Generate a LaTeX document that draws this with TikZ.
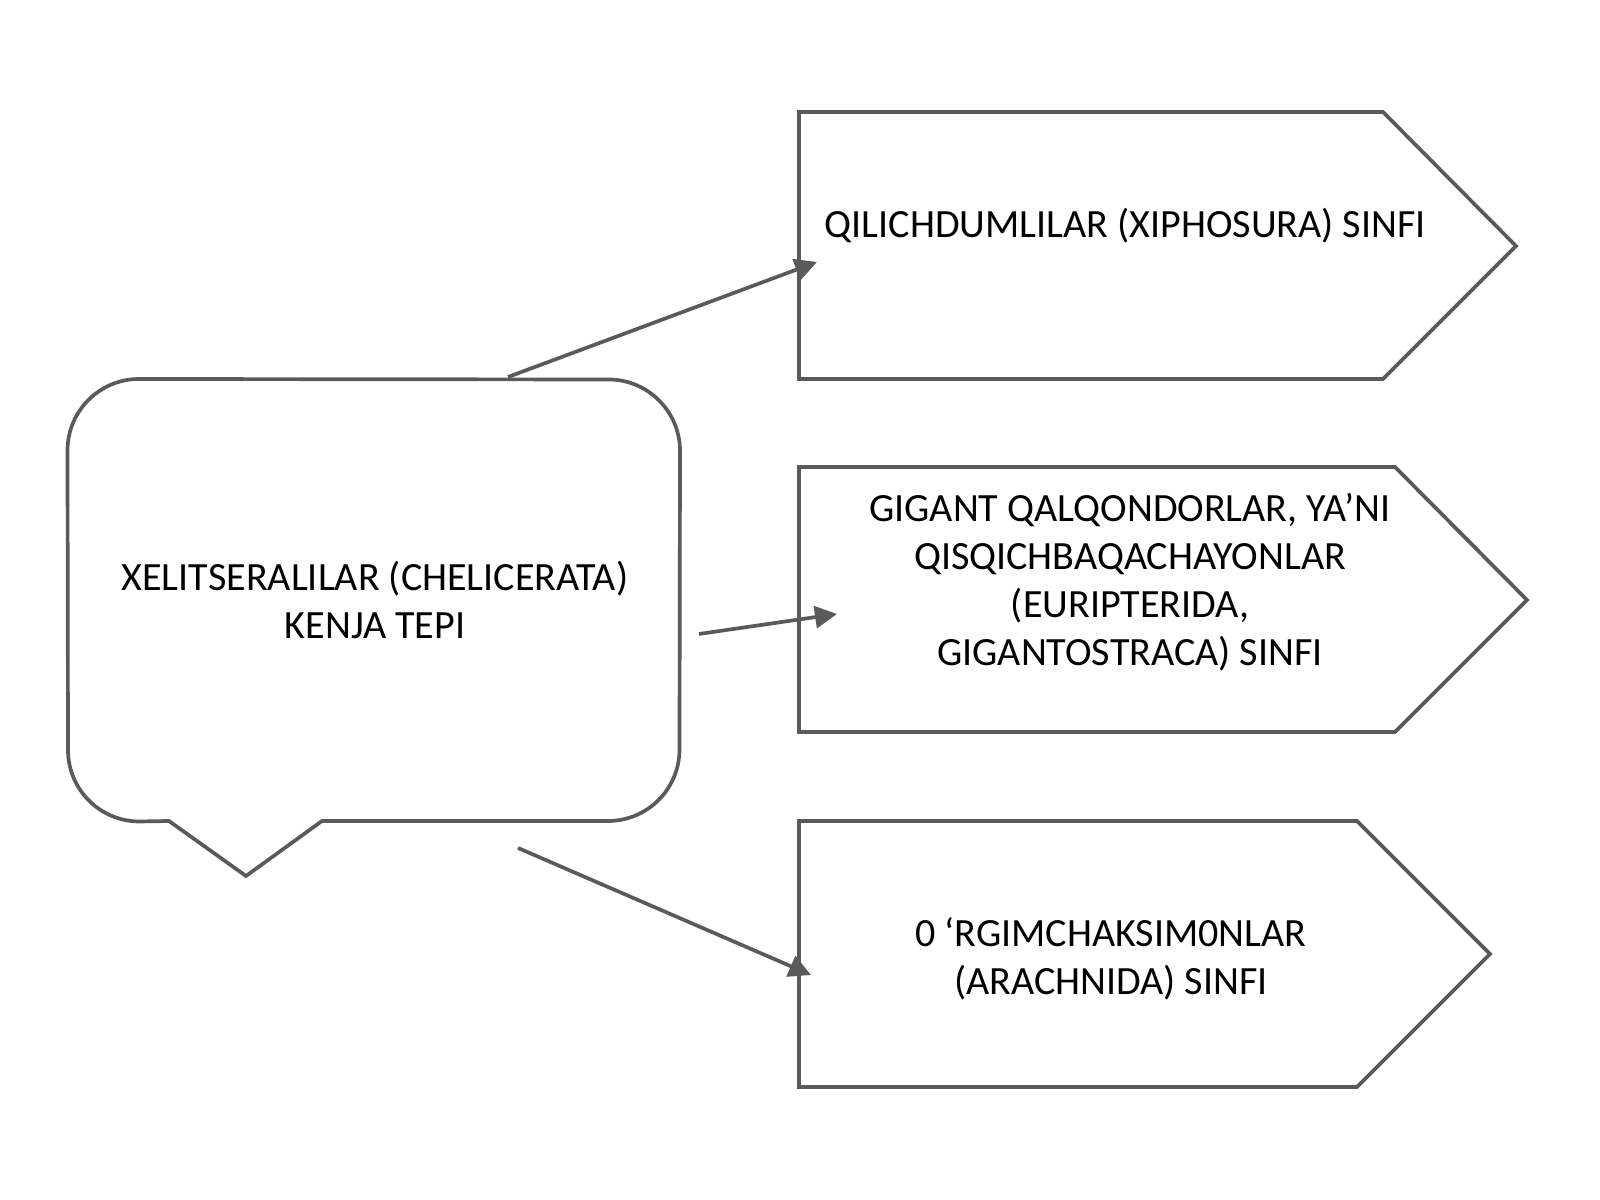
\documentclass[tikz,border=0pt]{standalone}
\usepackage{fontspec}
\setmainfont{Carlito}
\usetikzlibrary{arrows.meta}
\definecolor{linegray}{HTML}{5A5A5A}

\tikzset{
  outline/.style={draw=linegray, line width=1.05pt, line join=miter},
  link/.style={draw=linegray, line width=1.05pt, -{Triangle[length=2.2mm,width=2.2mm]}},
  boxtext/.style={inner sep=0pt, align=center, font=\fontsize{11.4}{13.7}\selectfont}
}

\begin{document}
\begin{tikzpicture}[x=0.1mm, y=0.1mm]
            \useasboundingbox (0,0) rectangle (1600,1200);

            % speech bubble
            \draw[outline] (169,379) -- (246,324) -- (322,379) -- (608,379)
                arc[start angle=270, end angle=360, radius=7.15mm] -- (680,749)
                arc[start angle=0, end angle=90, radius=7.15mm] -- (139,821)
                arc[start angle=90, end angle=180, radius=7.15mm] -- (68,450)
                arc[start angle=180, end angle=270, radius=7.15mm] -- cycle;
            \node[boxtext] (xelit) at (375,600) {XELITSERALILAR (CHELICERATA)\\KENJA TEPI};

            % arrow boxes
            \draw[outline] (799,1088) -- (1383,1088) -- (1516,954) -- (1383,821) -- (799,821) -- cycle;
            \node[boxtext, anchor=west] (xiph) at (824,974) {QILICHDUMLILAR (XIPHOSURA) SINFI};

            \draw[outline] (799,733) -- (1395,733) -- (1527,600) -- (1395,468) -- (799,468) -- cycle;
            \node[boxtext] (eurip) at (1130,618) {GIGANT QALQONDORLAR, YA’NI\\QISQICHBAQACHAYONLAR\\(EURIPTERIDA,\\GIGANTOSTRACA) SINFI};

            \draw[outline] (799,379) -- (1357,379) -- (1490,246) -- (1357,113) -- (799,113) -- cycle;
            \node[boxtext] (arach) at (1111,241) {0 ‘RGIMCHAKSIM0NLAR\\(ARACHNIDA) SINFI};

            % connectors
            \coordinate (xelitA) at (508,823);
            \coordinate (xelitB) at (699,566);
            \coordinate (xelitC) at (518,352);
            \coordinate (xiphIn) at (817,938);
            \coordinate (euripIn) at (837,586);
            \coordinate (arachIn) at (811,225);

            \draw[link] (xelitA) -- (xiphIn); % xelit-xiph
            \draw[link] (xelitB) -- (euripIn); % xelit-eurip
            \draw[link] (xelitC) -- (arachIn); % xelit-arach
        \end{tikzpicture}
\end{document}
